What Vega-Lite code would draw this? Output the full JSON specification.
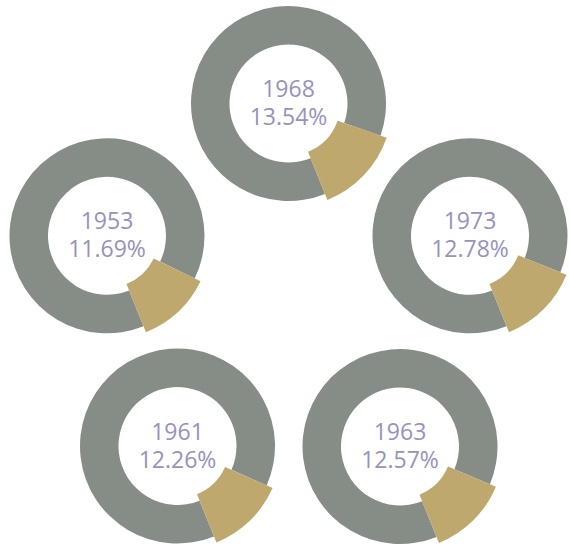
{
  "$schema": "https://vega.github.io/schema/vega-lite/v6.json",
  "width": 569,
  "height": 547,
  "padding": 0,
  "autosize": {"type": "none"},
  "background": "white",
  "config": {"view": {"stroke": null}},
  "data": {
    "values": [
      {"year": 1968, "part": "rest", "value": 86.46, "share": 0.1354},
      {"year": 1968, "part": "share", "value": 13.54, "share": 0.1354},
      {"year": 1953, "part": "rest", "value": 88.31, "share": 0.1169},
      {"year": 1953, "part": "share", "value": 11.69, "share": 0.1169},
      {"year": 1973, "part": "rest", "value": 87.22, "share": 0.1278},
      {"year": 1973, "part": "share", "value": 12.78, "share": 0.1278},
      {"year": 1961, "part": "rest", "value": 87.74, "share": 0.1226},
      {"year": 1961, "part": "share", "value": 12.26, "share": 0.1226},
      {"year": 1963, "part": "rest", "value": 87.43, "share": 0.1257},
      {"year": 1963, "part": "share", "value": 12.57, "share": 0.1257}
    ]
  },
  "transform": [
    {"stack": "value", "groupby": ["year"], "sort": [{"field": "part", "order": "ascending"}], "offset": "normalize", "as": ["t0", "t1"]}
  ],
  "encoding": {
    "x": {"field": "year", "type": "quantitative", "axis": null,
      "scale": {"type": "linear", "zero": false, "nice": false, "domain": [1953, 1961, 1963, 1968, 1973], "range": [107, 177.5, 400, 288.5, 470]}},
    "y": {"field": "year", "type": "quantitative", "axis": null,
      "scale": {"type": "linear", "zero": false, "nice": false, "domain": [1953, 1961, 1963, 1968, 1973], "range": [235.8, 446, 446.5, 103.5, 235.8]}}
  },
  "layer": [
    {
      "transform": [{"filter": "datum.part === 'rest'"}],
      "mark": {"type": "arc", "radius": 97.5, "radius2": 59, "color": "#868d87"},
      "encoding": {
        "theta": {"field": "t0", "type": "quantitative", "scale": {"domain": [0, 1], "range": [2.7576, 9.0408]}},
        "theta2": {"field": "t1"}
      }
    },
    {
      "transform": [{"filter": "datum.part === 'share'"}],
      "mark": {"type": "arc", "radius": 104, "radius2": 52, "color": "#bfa86e"},
      "encoding": {
        "theta": {"field": "t0", "type": "quantitative", "scale": {"domain": [0, 1], "range": [2.7576, 9.0408]}},
        "theta2": {"field": "t1"}
      }
    },
    {
      "transform": [{"filter": "datum.part === 'share'"}],
      "mark": {"type": "text", "font": "Open Sans", "fontSize": 23, "color": "#9692bb", "baseline": "alphabetic", "align": "center", "dy": -6.5},
      "encoding": {"text": {"field": "year", "type": "nominal"}}
    },
    {
      "transform": [{"filter": "datum.part === 'share'"}],
      "mark": {"type": "text", "font": "Open Sans", "fontSize": 23, "color": "#9692bb", "baseline": "alphabetic", "align": "center", "dy": 21.5},
      "encoding": {"text": {"field": "share", "type": "quantitative", "format": ".2%"}}
    }
  ]
}
